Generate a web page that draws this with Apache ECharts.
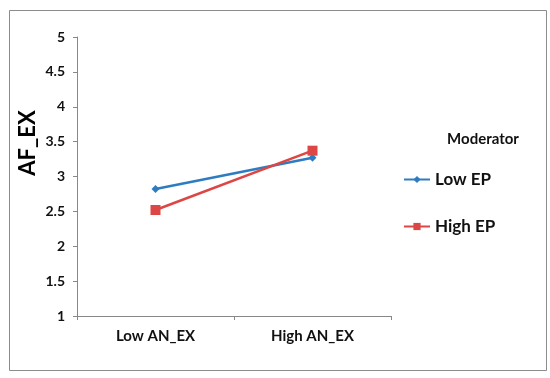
<!DOCTYPE html>
<html><head><meta charset="utf-8">
<script src="https://cdn.jsdelivr.net/npm/echarts@6/dist/echarts.min.js"></script>
<style>html,body{margin:0;padding:0;background:#fff}#c{width:550px;height:378px}</style>
</head><body><div id="c"></div>
<script>
var categories = ['Low AN_EX', 'High AN_EX'];
var lowEP = [2.82, 3.27];
var highEP = [2.52, 3.37];
var seriesNames = ['Low EP', 'High EP'];
var yTitle = 'AF_EX';
var legendTitle = 'Moderator';

var chart = echarts.init(document.getElementById('c'));
var font = 'Lato, Calibri, "Liberation Sans", sans-serif';
chart.setOption({
  animation: false,
  backgroundColor: '#fff',
  grid: {left: 77, top: 37, width: 314, height: 279, containLabel: false},
  xAxis: {
    type: 'category', data: categories, boundaryGap: true,
    axisLine: {lineStyle: {color: '#888', width: 1}},
    axisTick: {show: true, length: 4, lineStyle: {color: '#888'}},
    axisLabel: {color: '#111', fontFamily: font, fontWeight: 'bold', fontSize: 15, margin: 13}
  },
  yAxis: {
    type: 'value', min: 1, max: 5, interval: 0.5,
    axisLine: {show: true, lineStyle: {color: '#888', width: 1}},
    axisTick: {show: true, length: 4, lineStyle: {color: '#888'}},
    splitLine: {show: false},
    axisLabel: {color: '#111', fontFamily: font, fontWeight: 'bold', fontSize: 14, margin: 12}
  },
  legend: {
    orient: 'vertical', left: 403, top: 171, itemGap: 30, padding: 0,
    itemWidth: 26, itemHeight: 9, itemTextGap: 2,
    textStyle: {color: '#111', fontFamily: font, fontWeight: 'bold', fontSize: 17},
    data: seriesNames
  },
  graphic: [
    {type: 'rect', left: 7, top: 8, shape: {width: 537, height: 360}, style: {fill: 'none', stroke: '#8c8c8c', lineWidth: 1}},
    {type: 'text', x: 28, y: 143, rotation: Math.PI/2, style: {text: yTitle, font: 'bold 22px ' + font, fill: '#000', align: 'center', verticalAlign: 'middle'}},
    {type: 'text', x: 483, y: 139, style: {text: legendTitle, font: 'bold 15px ' + font, fill: '#111', align: 'center', verticalAlign: 'middle'}}
  ],
  series: [
    {name: seriesNames[0], type: 'line', data: lowEP, symbol: 'diamond', symbolSize: 8,
     lineStyle: {color: '#2e7cc0', width: 2.5}, itemStyle: {color: '#2e7cc0'}},
    {name: seriesNames[1], type: 'line', data: highEP, symbol: 'rect', symbolSize: 10,
     lineStyle: {color: '#dc4644', width: 2.5}, itemStyle: {color: '#dc4644'}}
  ]
});
</script></body></html>
